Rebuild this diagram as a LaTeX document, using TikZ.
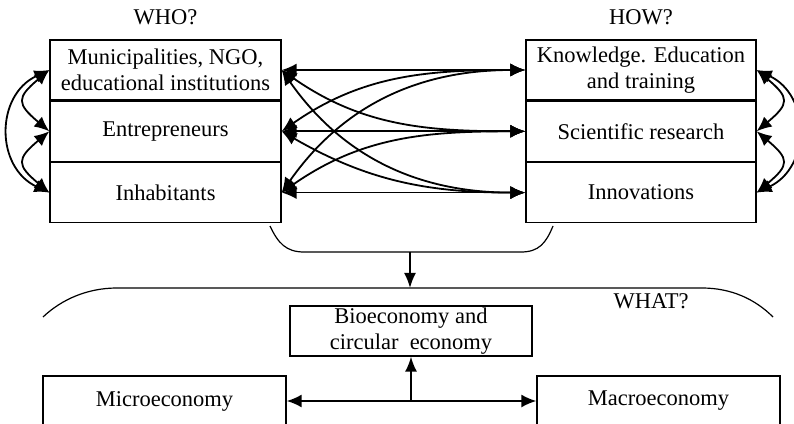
\documentclass[tikz,border=0pt]{standalone}
\usepackage{fontspec}
\setmainfont{Liberation Serif}
\usetikzlibrary{positioning}
\usetikzlibrary{arrows.meta}

\begin{document}
\begin{tikzpicture}[x=1pt, y=1pt, every node/.style={font=\fontsize{22.5}{26}\selectfont, align=center, inner sep=0pt},
    box/.style={draw, line width=1.3pt, minimum height=60pt},
    link/.style={{Latex[length=15pt,width=13pt]}-{Latex[length=15pt,width=13pt]}, line width=1.8pt},
    onelink/.style={-{Latex[length=15pt,width=12pt]}, line width=1.8pt}]
        % Fix the size of the picture
        \clip (0,0) rectangle (794,423);

        % Define the widths of the columns
        \def\wl{231pt}
        \def\wr{230pt}

        % Draw the WHO? column
        \node[box, minimum width=\wl] (L1) at (165.5,353) {Municipalities, NGO,\\educational institutions};
        \node[box, minimum width=\wl, below=0pt of L1] (L2) {Entrepreneurs};
        \node[box, minimum width=\wl, below=0pt of L2] (L3) {Inhabitants};
        \node[above=14pt of L1] (who) {WHO?};

        % Draw the HOW? column
        \node[box, minimum width=\wr] (R1) at (641,353) {Knowledge. Education\\and training};
        \node[box, minimum width=\wr, below=0pt of R1] (R2) {Scientific research};
        \node[box, minimum width=\wr, below=0pt of R2] (R3) {Innovations};
        \node[above=14pt of R1] (how) {HOW?};

        % Draw the links between the two columns
        \foreach \i in {1,2,3}
        {
          \draw[link] (L\i.east) -- (R\i.west);
        }
        \draw[link] (L1.east) to[out=-35, in=180] (R2.west);
        \draw[link] (L1.east) to[out=-55, in=180] (R3.west);
        \draw[link] (L2.east) to[out=35, in=180] (R1.west);
        \draw[link] (L2.east) to[out=-30, in=180] (R3.west);
        \draw[link] (L3.east) to[out=55, in=180] (R1.west);
        \draw[link] (L3.east) to[out=35, in=180] (R2.west);

        % Draw the links inside each column
        \draw[link] (L1.west) to[out=220, in=140, looseness=1.8] (L2.west);
        \draw[link] (L2.west) to[out=220, in=140, looseness=1.8] (L3.west);
        \draw[link] (L1.west) to[out=205, in=155, looseness=1.25] (L3.west);
        \draw[link] (R1.east) to[out=-40, in=40, looseness=1.8] (R2.east);
        \draw[link] (R2.east) to[out=-40, in=40, looseness=1.8] (R3.east);
        \draw[link] (R1.east) to[out=-25, in=25, looseness=1.25] (R3.east);

        % Draw the bracket under both columns
        \draw[line width=1.2pt] (270,197) .. controls (278,180) and (286,171) .. (304,171) -- (521,171)
          .. controls (539,171) and (546,180) .. (553,197);
        \coordinate (brace) at (410,171);

        % Draw the arc over the WHAT? part
        \draw[line width=1.2pt] (43,106) .. controls (62,124) and (88,135) .. (117,135) -- (702,135)
          .. controls (731,135) and (755,124) .. (773,106);
        \coordinate (what) at (410,135);
        \draw[onelink] (brace) -- (what);
        \node (whatlabel) at (651,122) {WHAT?};

        % Draw the WHAT? boxes
        \node[box, minimum width=242pt, minimum height=50pt] (bio) at (411,92) {Bioeconomy and\\circular\ \ economy};
        \node[box, minimum width=243pt, minimum height=50pt] (micro) at (164.5,22) {Microeconomy};
        \node[box, minimum width=243pt, minimum height=50pt] (macro) at (658.5,22) {Macroeconomy};

        \draw[link] (micro.east) -- (macro.west);
        \draw[onelink] (bio.south |- micro.east) -- (bio.south);
      \end{tikzpicture}
\end{document}
